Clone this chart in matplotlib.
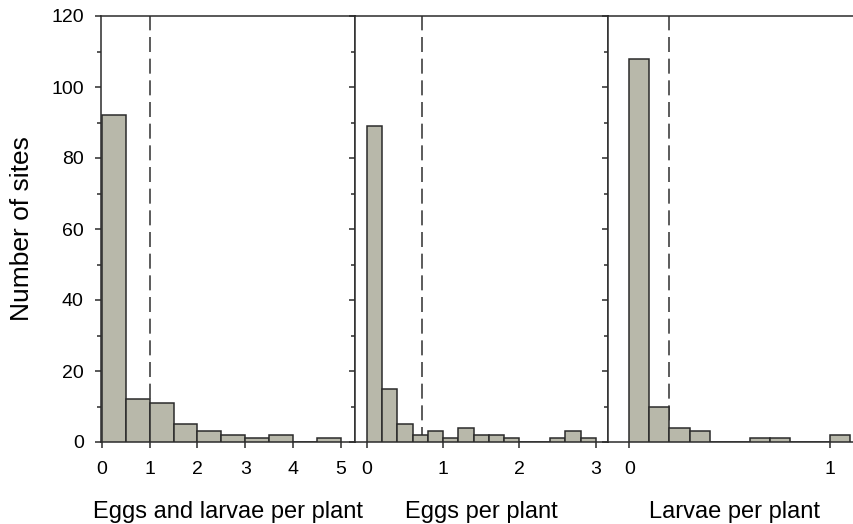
import numpy as np
import matplotlib
matplotlib.use("Agg")
import matplotlib.pyplot as plt
from matplotlib.ticker import MultipleLocator

# ── Data (histogram bins) ─────────────────────────────────────────────────────
both_left   = [0.0, 0.5, 1.0, 1.5, 2.0, 2.5, 3.0, 3.5, 4.0, 4.5]
both_counts = [92, 12, 11, 5, 3, 2, 1, 2, 0, 1]
both_width  = 0.5
both_cut    = 1.0

eggs_left   = [0.0, 0.2, 0.4, 0.6, 0.8, 1.0, 1.2, 1.4, 1.6, 1.8, 2.0, 2.2, 2.4, 2.6, 2.8]
eggs_counts = [89, 15, 5, 2, 3, 1, 4, 2, 2, 1, 0, 0, 1, 3, 1]
eggs_width  = 0.2
eggs_cut    = 0.73

larv_left   = [0.0, 0.1, 0.2, 0.3, 0.4, 0.5, 0.6, 0.7, 0.8, 0.9, 1.0]
larv_counts = [108, 10, 4, 3, 0, 0, 1, 1, 0, 0, 2]
larv_width  = 0.1
larv_cut    = 0.2

xlabels = ["Eggs and larvae per plant", "Eggs per plant", "Larvae per plant"]

# ── Style ─────────────────────────────────────────────────────────────────────
plt.rcParams["font.family"] = ["Liberation Sans", "DejaVu Sans"]
BAR_FILL = "#b8b8aa"
EDGE     = "#2b2b2b"
LW       = 1.1

fig = plt.figure(figsize=(8.54, 5.24), dpi=100)
W, H = 854, 524
bottom, top = 442, 16
panels = [
    # left px, right px, xlim, xticks
    (101, 355, (-0.015, 5.29), [0, 1, 2, 3, 4, 5]),
    (355, 608, (-0.153, 3.16), [0, 1, 2, 3]),
    (608, 862, (-0.106, 1.159), [0, 1]),
]
series = [
    (both_left, both_counts, both_width, both_cut),
    (eggs_left, eggs_counts, eggs_width, eggs_cut),
    (larv_left, larv_counts, larv_width, larv_cut),
]

axes = []
for i, ((l, r, xlim, xt), (left, counts, width, cut)) in enumerate(zip(panels, series)):
    ax = fig.add_axes([l / W, 1 - bottom / H, (r - l) / W, (bottom - top) / H])
    ax.bar(left, counts, width=width, align="edge", color=BAR_FILL,
           edgecolor=EDGE, linewidth=LW, zorder=3)
    ax.axvline(cut, color="#404040", linewidth=1.2, linestyle=(0, (9, 4)), zorder=2)
    ax.set_xlim(*xlim)
    ax.set_ylim(0, 120)
    ax.set_xticks(xt)
    ax.yaxis.set_major_locator(MultipleLocator(20))
    ax.yaxis.set_minor_locator(MultipleLocator(10))
    ax.tick_params(axis="both", which="major", direction="out", length=4.5,
                   width=LW, color=EDGE, labelsize=14, pad=8)
    ax.tick_params(axis="x", which="major", pad=9)
    ax.tick_params(axis="y", which="minor", direction="out", length=3,
                   width=LW, color=EDGE)
    if i > 0:
        ax.tick_params(axis="y", labelleft=False)
    for s in ax.spines.values():
        s.set_linewidth(LW)
        s.set_color(EDGE)
    if i == 2:
        ax.spines["right"].set_visible(False)
    ax.set_xlabel(xlabels[i], fontsize=17, labelpad=17)
    axes.append(ax)

axes[0].set_ylabel("Number of sites", fontsize=19, labelpad=12)

plt.savefig("out.png", dpi=100)
